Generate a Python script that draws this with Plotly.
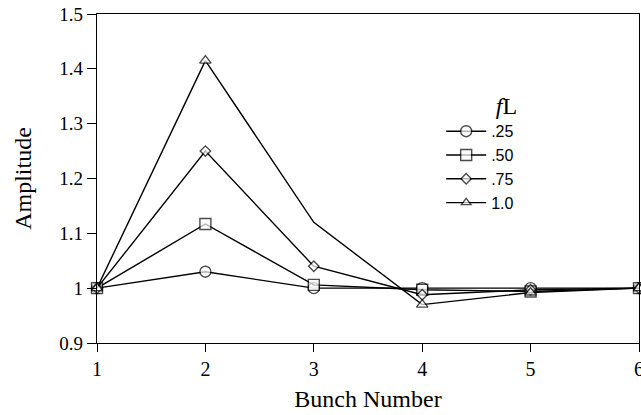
import plotly.graph_objects as go

bunch = [1, 2, 3, 4, 5, 6]
amp_025 = [1.0, 1.03, 1.0, 1.0, 1.0, 1.0]
amp_050 = [1.0, 1.117, 1.006, 0.997, 0.994, 1.0]
amp_075 = [1.0, 1.25, 1.04, 0.988, 0.997, 1.0]
amp_100 = [1.0, 1.415, 1.12, 0.97, 0.992, 1.0]
labels = [".25", ".50", ".75", "1.0"]
symbols = ["circle", "square", "diamond", "triangle-up"]
sizes = [11, 11, 8, 10]

fig = go.Figure()
for lab, ys, sym, sz in zip(labels, [amp_025, amp_050, amp_075, amp_100], symbols, sizes):
    msz = [sz] * len(ys)
    if lab == "1.0":
        msz[2] = 0
    fig.add_trace(go.Scatter(
        x=bunch, y=ys, name=lab, mode="lines+markers",
        line=dict(color="black", width=1.4),
        marker=dict(symbol=sym, size=msz, color="white",
                    line=dict(color="black", width=1.4)),
        cliponaxis=False,
    ))

fig.update_layout(
    width=641, height=415,
    margin=dict(l=97, r=2, t=14, b=72, autoexpand=False),
    paper_bgcolor="white", plot_bgcolor="white",
    font=dict(family="Liberation Serif", color="black", size=18),
    showlegend=True,
    legend=dict(
        x=0.635, y=0.79, xanchor="left", yanchor="top",
        title=dict(text="<i>f</i>L", font=dict(family="Liberation Serif", size=24), side="top right"),
        font=dict(family="Liberation Sans", size=16),
        bgcolor="rgba(0,0,0,0)", tracegroupgap=0, itemwidth=40,
    ),
    xaxis=dict(
        range=[1, 6], tickvals=bunch, ticks="outside", ticklen=8, tickcolor="black",
        showgrid=False, zeroline=False, showline=True, linecolor="black", linewidth=1.4,
        mirror=True, automargin=False, ticklabeloverflow="allow",
        title=dict(text="Bunch Number", font=dict(size=24), standoff=10),
        tickfont=dict(size=20),
    ),
    yaxis=dict(
        range=[0.9, 1.5], tickvals=[0.9, 1.0, 1.1, 1.2, 1.3, 1.4, 1.5],
        ticktext=["0.9", "1", "1.1", "1.2", "1.3", "1.4", "1.5"],
        ticks="outside", ticklen=9, tickcolor="black",
        showgrid=False, zeroline=False, showline=True, linecolor="black", linewidth=1.4,
        mirror=True, automargin=False, ticklabeloverflow="allow",
        title=dict(text="Amplitude", font=dict(size=24), standoff=20),
        tickfont=dict(size=19),
    ),
)
fig.write_html("out.html", config={"displayModeBar": False},
               post_script="document.body.style.margin='0';document.body.style.overflow='hidden';")
